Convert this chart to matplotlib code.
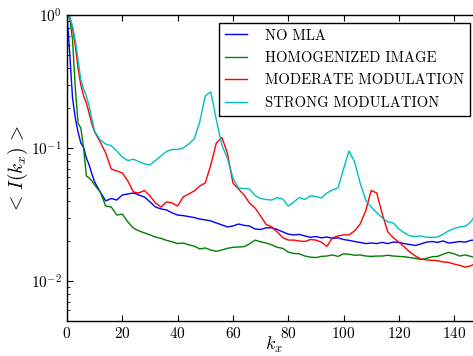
import matplotlib
matplotlib.use('Agg')
import matplotlib.pyplot as plt

plt.rcParams['font.family'] = 'cmr10'
plt.rcParams['mathtext.fontset'] = 'cm'
plt.rcParams['axes.formatter.use_mathtext'] = True

# wave number samples (dense near origin)
k = [0, 1, 2, 3, 4, 5, 6, 7, 8, 9, 10] + list(range(12, 147, 2)) + [147]

no_mla = [1.0, 0.509, 0.237, 0.168, 0.132, 0.109, 0.101, 0.0841, 0.0745, 0.0638, 0.0555,
          0.0467, 0.0400, 0.0417, 0.0406, 0.0443, 0.0451, 0.0459, 0.0443, 0.0428, 0.0393,
          0.0360, 0.0348, 0.0342, 0.0325, 0.0313, 0.0310, 0.0305, 0.0300, 0.0292, 0.0288,
          0.0283, 0.0273, 0.0264, 0.0255, 0.0259, 0.0268, 0.0262, 0.0259, 0.0246, 0.0244,
          0.0251, 0.0251, 0.0244, 0.0234, 0.0225, 0.0222, 0.0224, 0.0218, 0.0213, 0.0216,
          0.0211, 0.0214, 0.0209, 0.0211, 0.0205, 0.0202, 0.0198, 0.0195, 0.0191, 0.0193,
          0.0191, 0.0195, 0.0191, 0.0196, 0.0195, 0.0191, 0.0188, 0.0185, 0.0190, 0.0196,
          0.0198, 0.0195, 0.0200, 0.0193, 0.0195, 0.0198, 0.0196, 0.0202, 0.0203]

homogenized = [0.97, 0.95, 0.649, 0.283, 0.154, 0.141, 0.100, 0.0616, 0.0595, 0.0565, 0.0527,
               0.0467, 0.0366, 0.0360, 0.0313, 0.0318, 0.0278, 0.0250, 0.0238, 0.0230, 0.0222,
               0.0214, 0.0209, 0.0202, 0.0197, 0.0191, 0.0193, 0.0187, 0.0183, 0.0174, 0.0177,
               0.0171, 0.0167, 0.0171, 0.0176, 0.0179, 0.0180, 0.0181, 0.0190, 0.0203, 0.0197,
               0.0193, 0.0187, 0.0179, 0.0176, 0.0165, 0.0161, 0.0160, 0.0154, 0.0151, 0.0150,
               0.0153, 0.0154, 0.0157, 0.0153, 0.0160, 0.0159, 0.0156, 0.0157, 0.0154, 0.0153,
               0.0154, 0.0154, 0.0156, 0.0154, 0.0153, 0.0152, 0.0150, 0.0148, 0.0145, 0.0148,
               0.0152, 0.0153, 0.0159, 0.0164, 0.0160, 0.0154, 0.0157, 0.0153, 0.0151]

moderate = [1.0, 0.966, 0.798, 0.585, 0.398, 0.298, 0.246, 0.218, 0.183, 0.151, 0.132,
            0.111, 0.0917, 0.0695, 0.0671, 0.0649, 0.0565, 0.0467, 0.0459, 0.0479, 0.0436,
            0.0386, 0.0360, 0.0393, 0.0386, 0.0366, 0.0428, 0.0451, 0.0475, 0.0518, 0.0546,
            0.0745, 0.109, 0.120, 0.0917, 0.0546, 0.0492, 0.0443, 0.0386, 0.0354, 0.0308,
            0.0266, 0.0255, 0.0234, 0.0212, 0.0203, 0.0203, 0.0200, 0.0198, 0.0205, 0.0203,
            0.0196, 0.0182, 0.0211, 0.0218, 0.0222, 0.0222, 0.0238, 0.0268, 0.0336, 0.0479,
            0.0459, 0.0319, 0.0234, 0.0211, 0.0196, 0.0180, 0.0165, 0.0154, 0.0146, 0.0144,
            0.0143, 0.0142, 0.0139, 0.0138, 0.0134, 0.0131, 0.0127, 0.0130, 0.0133]

strong = [1.0, 0.966, 0.827, 0.649, 0.459, 0.325, 0.278, 0.246, 0.207, 0.165, 0.134,
          0.115, 0.107, 0.104, 0.0949, 0.0855, 0.0805, 0.0823, 0.0791, 0.0759, 0.0745,
          0.0805, 0.0871, 0.0942, 0.0975, 0.0975, 0.100, 0.107, 0.117, 0.157, 0.246,
          0.264, 0.163, 0.105, 0.0841, 0.0595, 0.0500, 0.0495, 0.0492, 0.0439, 0.0417,
          0.0410, 0.0406, 0.0424, 0.0413, 0.0366, 0.0393, 0.0424, 0.0410, 0.0436, 0.0432,
          0.0421, 0.0459, 0.0483, 0.0501, 0.0695, 0.0949, 0.0785, 0.0546, 0.0406, 0.0360,
          0.0327, 0.0298, 0.0278, 0.0273, 0.0246, 0.0230, 0.0218, 0.0216, 0.0218, 0.0213,
          0.0213, 0.0214, 0.0225, 0.0238, 0.0248, 0.0255, 0.0257, 0.0278, 0.0298]

labels = ['NO MLA', 'HOMOGENIZED IMAGE', 'MODERATE MODULATION', 'STRONG MODULATION']
colors = ['#0000ff', '#008000', '#ff0000', '#00bfbf']

fig = plt.figure(figsize=(4.73, 3.56), dpi=100)
ax = fig.add_axes([67 / 473, 35 / 356, 414.8 / 473, 306 / 356])

for series, lab, col in zip([no_mla, homogenized, moderate, strong], labels, colors):
    ax.plot(k, series, color=col, lw=1.0, label=lab)

ax.set_yscale('log')
ax.set_xlim(0, 150)
ax.set_ylim(5e-3, 1)
ax.set_xticks(range(0, 160, 20))

ax.tick_params(which='both', direction='in', top=True, right=True, labelsize=11)
ax.tick_params(which='major', length=4)
ax.tick_params(which='minor', length=2)
for s in ax.spines.values():
    s.set_linewidth(1.0)

ax.set_xlabel(r'$k_x$', fontsize=13)
ax.xaxis.set_label_coords(0.5, -0.045)
ax.set_ylabel(r'${<}\,I(k_x)\,{>}$', fontsize=14)
ax.yaxis.set_label_coords(-0.089, 0.495)

leg = ax.legend(loc='upper right', bbox_to_anchor=(0.9716, 0.974), borderaxespad=0,
                fontsize=10.5, handlelength=1.5, handletextpad=1.25, labelspacing=0.6,
                fancybox=False, framealpha=1.0, edgecolor='black')
leg.get_frame().set_linewidth(1.0)

fig.savefig('out.png', dpi=100)
